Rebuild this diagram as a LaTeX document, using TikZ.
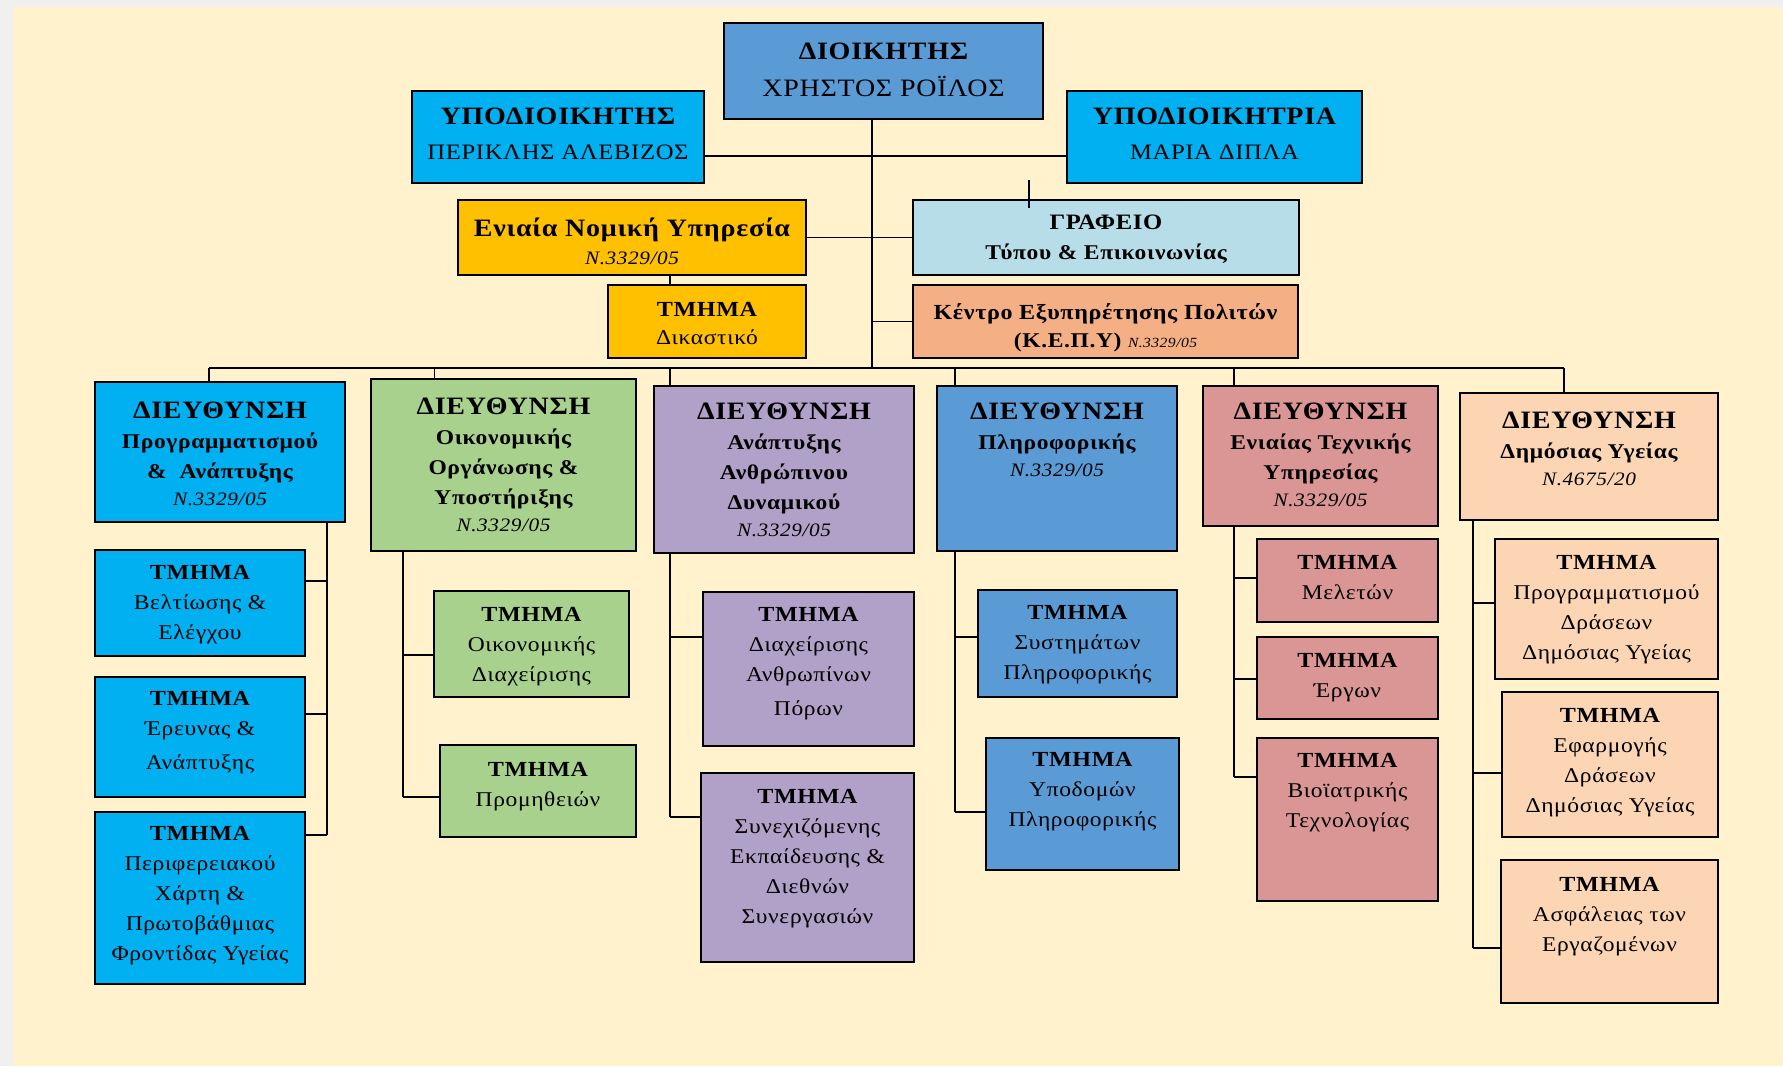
\documentclass[tikz,border=0pt]{standalone}
\usepackage{fontspec}
\setmainfont{Liberation Serif}[FakeStretch=1.12, LetterSpace=3]
\usetikzlibrary{calc}
\definecolor{cream}{HTML}{FFF2CC}
\definecolor{outer}{HTML}{F0F0F0}
\definecolor{cBlueD}{HTML}{5B9BD5}
\definecolor{cCyan}{HTML}{00B0F0}
\definecolor{cGold}{HTML}{FFC000}
\definecolor{cLBlue}{HTML}{B7DEE8}
\definecolor{cOrange}{HTML}{F4B084}
\definecolor{cGreen}{HTML}{A9D18E}
\definecolor{cPurple}{HTML}{B1A0C7}
\definecolor{cRose}{HTML}{DA9694}
\definecolor{cPeach}{HTML}{FCD5B4}
\newcommand\hdf{\fontsize{25}{30}\selectfont\bfseries}
\newcommand\tmf{\fontsize{21.5}{30}\selectfont\bfseries}
\newcommand\subbf{\fontsize{21}{30}\selectfont\bfseries}
\newcommand\nlaw{\fontsize{19}{30}\selectfont\itshape}
\newcommand\orgbox[8]{%
  \node[box, fill=#6, minimum width={#4pt-#2pt}, minimum height={#5pt-#3pt}] (#1) at ({(#2+#4)/2},{(#3+#5)/2}) {};
  \node[txt, anchor=north] (#1t) at ([yshift=-#7pt]#1.north) {#8};
}
\tikzset{
  box/.style={draw=black, line width=1.8pt, rectangle, inner sep=0pt, outer sep=0pt},
  txt/.style={align=center, inner sep=0pt, font=\fontsize{21}{30}\selectfont},
  conn/.style={draw=black, line width=1.8pt},
}
\begin{document}
\begin{tikzpicture}[x=1pt,y=-1pt]
\useasboundingbox (0,0) rectangle (1783,1066);
\fill[outer] (0,0) rectangle (1783,1066);
\fill[cream] (13,7) rectangle (1783,1066);

% top level
\orgbox{dioik}{724}{23}{1043}{119}{cBlueD}{20}{{\hdf ΔΙΟΙΚΗΤΗΣ}\\[7pt]{\fontsize{25}{30}\selectfont ΧΡΗΣΤΟΣ ΡΟΪΛΟΣ}}
\orgbox{ypoda}{412}{91}{704}{183}{cCyan}{17}{{\hdf ΥΠΟΔΙΟΙΚΗΤΗΣ}\\[5pt]{\fontsize{22}{30}\selectfont ΠΕΡΙΚΛΗΣ ΑΛΕΒΙΖΟΣ}}
\orgbox{ypodb}{1067}{91}{1362}{183}{cCyan}{17}{{\hdf ΥΠΟΔΙΟΙΚΗΤΡΙΑ}\\[5pt]{\fontsize{22}{30}\selectfont ΜΑΡΙΑ ΔΙΠΛΑ}}
\orgbox{nomiki}{458}{200}{806}{275}{cGold}{18}{{\hdf Ενιαία Νομική Υπηρεσία}\\[-2pt]{\nlaw Ν.3329/05}}
\orgbox{grafeio}{913}{200}{1299}{275}{cLBlue}{15}{{\fontsize{22}{30}\selectfont\bfseries ΓΡΑΦΕΙΟ}\\{\subbf Τύπου \& Επικοινωνίας}}
\orgbox{dikast}{608}{285}{806}{358}{cGold}{17}{{\tmf ΤΜΗΜΑ}\\[-2pt]Δικαστικό}
\orgbox{kepy}{913}{285}{1298}{358}{cOrange}{18}{{\fontsize{21.5}{30}\selectfont\bfseries Κέντρο Εξυπηρέτησης Πολιτών}\\[-2pt]{\subbf (Κ.Ε.Π.Υ)} {\fontsize{14}{30}\selectfont\itshape Ν.3329/05}}

% directorates
\orgbox{d1}{95}{382}{345}{522}{cCyan}{20}{{\hdf ΔΙΕΥΘΥΝΣΗ}\\{\subbf Προγραμματισμού}\\{\subbf \&\ \ Ανάπτυξης}\\[-3pt]{\nlaw Ν.3329/05}}
\orgbox{d2}{371}{379}{636}{551}{cGreen}{19}{{\hdf ΔΙΕΥΘΥΝΣΗ}\\{\subbf Οικονομικής}\\{\subbf Οργάνωσης \&}\\{\subbf Υποστήριξης}\\[-3pt]{\nlaw Ν.3329/05}}
\orgbox{d3}{654}{386}{914}{553}{cPurple}{17}{{\hdf ΔΙΕΥΘΥΝΣΗ}\\{\subbf Ανάπτυξης}\\{\subbf Ανθρώπινου}\\{\subbf Δυναμικού}\\[-3pt]{\nlaw Ν.3329/05}}
\orgbox{d4}{937}{386}{1177}{551}{cBlueD}{17}{{\hdf ΔΙΕΥΘΥΝΣΗ}\\{\subbf Πληροφορικής}\\[-3pt]{\nlaw Ν.3329/05}}
\orgbox{d5}{1203}{386}{1438}{526}{cRose}{17}{{\hdf ΔΙΕΥΘΥΝΣΗ}\\{\subbf Ενιαίας Τεχνικής}\\{\subbf Υπηρεσίας}\\[-3pt]{\nlaw Ν.3329/05}}
\orgbox{d6}{1460}{393}{1718}{520}{cPeach}{19}{{\hdf ΔΙΕΥΘΥΝΣΗ}\\{\subbf Δημόσιας Υγείας}\\[-3pt]{\nlaw Ν.4675/20}}

% departments
\orgbox{c11}{95}{550}{305}{656}{cCyan}{15}{{\tmf ΤΜΗΜΑ}\\Βελτίωσης \&\\Ελέγχου}
\orgbox{c12}{95}{677}{305}{797}{cCyan}{14}{{\tmf ΤΜΗΜΑ}\\Έρευνας \&\\[4pt]Ανάπτυξης}
\orgbox{c13}{95}{812}{305}{984}{cCyan}{14}{{\tmf ΤΜΗΜΑ}\\Περιφερειακού\\Χάρτη \&\\Πρωτοβάθμιας\\Φροντίδας Υγείας}
\orgbox{c21}{434}{591}{629}{697}{cGreen}{16}{{\tmf ΤΜΗΜΑ}\\Οικονομικής\\Διαχείρισης}
\orgbox{c22}{440}{745}{636}{837}{cGreen}{17}{{\tmf ΤΜΗΜΑ}\\Προμηθειών}
\orgbox{c31}{703}{592}{914}{746}{cPurple}{15}{{\tmf ΤΜΗΜΑ}\\Διαχείρισης\\Ανθρωπίνων\\[4pt]Πόρων}
\orgbox{c32}{701}{773}{914}{962}{cPurple}{16}{{\tmf ΤΜΗΜΑ}\\Συνεχιζόμενης\\Εκπαίδευσης \&\\Διεθνών\\Συνεργασιών}
\orgbox{c41}{978}{590}{1177}{697}{cBlueD}{15}{{\tmf ΤΜΗΜΑ}\\Συστημάτων\\Πληροφορικής}
\orgbox{c42}{986}{738}{1179}{870}{cBlueD}{14}{{\tmf ΤΜΗΜΑ}\\Υποδομών\\Πληροφορικής}
\orgbox{c51}{1257}{539}{1438}{622}{cRose}{16}{{\tmf ΤΜΗΜΑ}\\Μελετών}
\orgbox{c52}{1257}{637}{1438}{719}{cRose}{16}{{\tmf ΤΜΗΜΑ}\\Έργων}
\orgbox{c53}{1257}{738}{1438}{901}{cRose}{15}{{\tmf ΤΜΗΜΑ}\\Βιοϊατρικής\\Τεχνολογίας}
\orgbox{c61}{1495}{539}{1718}{679}{cPeach}{16}{{\tmf ΤΜΗΜΑ}\\Προγραμματισμού\\Δράσεων\\Δημόσιας Υγείας}
\orgbox{c62}{1502}{692}{1718}{837}{cPeach}{16}{{\tmf ΤΜΗΜΑ}\\Εφαρμογής\\Δράσεων\\Δημόσιας Υγείας}
\orgbox{c63}{1501}{860}{1718}{1003}{cPeach}{17}{{\tmf ΤΜΗΜΑ}\\Ασφάλειας των\\Εργαζομένων}

% top connectors
\coordinate (tr) at (872,368);
\draw[conn] (dioik.south -| tr) -- (tr);
\coordinate (yp) at ([yshift=-65pt]ypoda.north east);
\draw[conn] (yp) -- (yp -| ypodb.west);
\draw[conn] (nomiki.east) -- (nomiki.east -| grafeio.west);
\draw[conn] (kepy.west) -- (kepy.west -| tr);
\coordinate (dk) at (670,0);
\draw[conn] (nomiki.south -| dk) -- (dikast.north -| dk);
\coordinate (tkA) at (1029,180);
\coordinate (tkB) at (1029,208);
\draw[draw=black!85!blue, line width=2.2pt] (tkA) -- (tkB);

% bus and drops
\coordinate (b1) at (209,368);
\coordinate (b2) at (434.5,368);
\coordinate (b3) at (670,368);
\coordinate (b4) at (955,368);
\coordinate (b5) at (1234,368);
\coordinate (b6) at (1564,368);
\draw[conn] (b1) -- (b6);
\foreach \i in {1,...,6} \draw[conn] (b\i) -- (b\i |- d\i.north);

% spines
\coordinate (s1) at (327,0);
\coordinate (s2) at (403,0);
\coordinate (s3) at (670,0);
\coordinate (s4) at (955,0);
\coordinate (s5) at (1234,0);
\coordinate (s6) at (1473,0);

\coordinate (c11p) at ([yshift=-31pt]c11.north east);
\coordinate (c12p) at ([yshift=-37pt]c12.north east);
\coordinate (c13p) at ([yshift=-23pt]c13.north east);
\coordinate (c21p) at ([yshift=-64pt]c21.north west);
\coordinate (c22p) at ([yshift=-52pt]c22.north west);
\coordinate (c31p) at ([yshift=-45pt]c31.north west);
\coordinate (c32p) at ([yshift=-44pt]c32.north west);
\coordinate (c41p) at ([yshift=-47pt]c41.north west);
\coordinate (c42p) at ([yshift=-74pt]c42.north west);
\coordinate (c51p) at ([yshift=-39pt]c51.north west);
\coordinate (c52p) at ([yshift=-42pt]c52.north west);
\coordinate (c53p) at ([yshift=-39pt]c53.north west);
\coordinate (c61p) at ([yshift=-64pt]c61.north west);
\coordinate (c62p) at ([yshift=-81pt]c62.north west);
\coordinate (c63p) at ([yshift=-88pt]c63.north west);

\draw[conn] (d1.south -| s1) -- (s1 |- c13p);
\draw[conn] (d2.south -| s2) -- (s2 |- c22p);
\draw[conn] (d3.south -| s3) -- (s3 |- c32p);
\draw[conn] (d4.south -| s4) -- (s4 |- c42p);
\draw[conn] (d5.south -| s5) -- (s5 |- c53p);
\draw[conn] (d6.south -| s6) -- (s6 |- c63p);
\foreach \c in {c11p,c12p,c13p} \draw[conn] (\c) -- (\c -| s1);
\foreach \c in {c21p,c22p} \draw[conn] (\c) -- (\c -| s2);
\foreach \c in {c31p,c32p} \draw[conn] (\c) -- (\c -| s3);
\foreach \c in {c41p,c42p} \draw[conn] (\c) -- (\c -| s4);
\foreach \c in {c51p,c52p,c53p} \draw[conn] (\c) -- (\c -| s5);
\foreach \c in {c61p,c62p,c63p} \draw[conn] (\c) -- (\c -| s6);
\end{tikzpicture}
\end{document}
